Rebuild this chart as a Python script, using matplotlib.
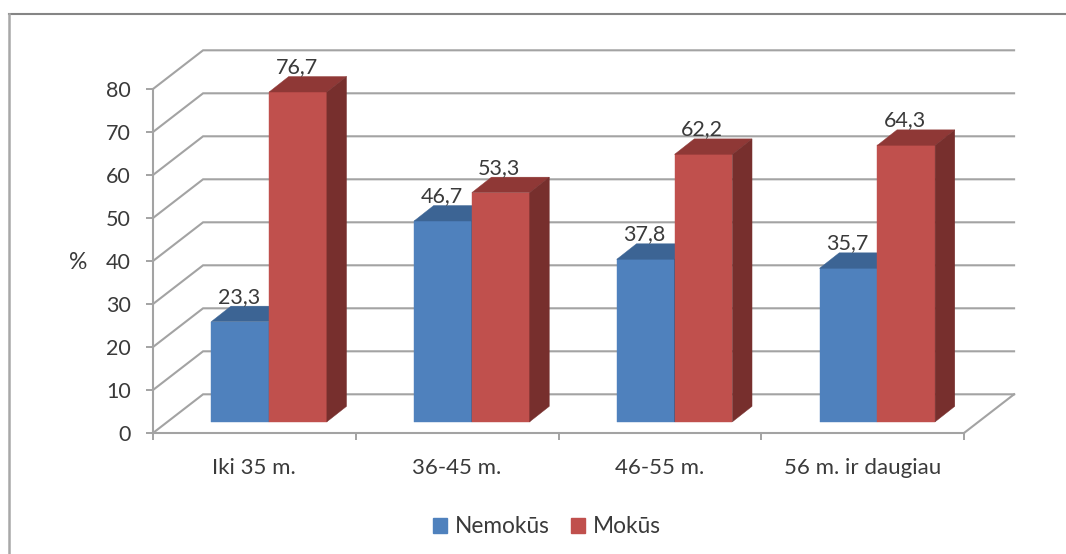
import matplotlib
matplotlib.use("Agg")
import matplotlib.pyplot as plt
from matplotlib.lines import Line2D
from matplotlib.patches import Patch, Polygon

plt.rcParams["font.family"] = ["Lato", "DejaVu Sans"]

groups = ["Iki 35 m.", "36-45 m.", "46-55 m.", "56 m. ir daugiau"]
nemokus = [23.3, 46.7, 37.8, 35.7]
mokus = [76.7, 53.3, 62.2, 64.3]
yticks = [0, 10, 20, 30, 40, 50, 60, 70, 80]

TEXT = "#3a3a3a"
GRID = "#a3a3a3"
BLUE = ("#4f81bd", "#3c6494", "#2f4f76")
RED = ("#c0504d", "#8f3836", "#772f2d")

# depth of the fake 3d box, in axis units
WALL_DX, WALL_DY = 0.247, 9.0
FLOOR_DX, FLOOR_DY = 0.0725, 2.6
BAR_DX, BAR_DY = 0.097, 3.6
BAR_W = 0.285


def draw_bar(ax, x, val, cols):
    # front face sits on the floor, top and side are sheared polygons
    y0 = FLOOR_DY
    y1 = y0 + val
    x1 = x + BAR_W
    ax.bar(x, val, BAR_W, bottom=y0, align="edge", color=cols[0], edgecolor=cols[0],
           linewidth=0.3, clip_on=False, zorder=3)
    ax.add_patch(Polygon([(x, y1), (x1, y1), (x1 + BAR_DX, y1 + BAR_DY), (x + BAR_DX, y1 + BAR_DY)],
                         closed=True, fc=cols[1], ec=cols[1], lw=0.3, clip_on=False, zorder=3))
    ax.add_patch(Polygon([(x1, y0), (x1 + BAR_DX, y0 + BAR_DY), (x1 + BAR_DX, y1 + BAR_DY), (x1, y1)],
                         closed=True, fc=cols[2], ec=cols[2], lw=0.3, clip_on=False, zorder=3))
    ax.annotate(f"{val}".replace(".", ","), (x + BAR_W / 2, y1), xytext=(-1, 18),
                textcoords="offset points", ha="center", va="center",
                fontsize=15.5, color=TEXT, zorder=5)


fig = plt.figure(figsize=(10.66, 5.54), dpi=100)
ax = fig.add_axes([153 / 1066, 1 - 433 / 554, 811 / 1066, 344 / 554])

# back wall and left wall gridlines
for v in yticks:
    ax.plot([0, WALL_DX, 4 + WALL_DX], [v, v + WALL_DY, v + WALL_DY],
            color=GRID, lw=1.5, clip_on=False, zorder=1, solid_joinstyle="miter")
ax.plot([4, 4 + WALL_DX], [0, WALL_DY], color=GRID, lw=1.5, clip_on=False, zorder=1)

for i in range(len(groups)):
    mid = i + 0.5 + FLOOR_DX
    draw_bar(ax, mid - BAR_W, nemokus[i], BLUE)
    draw_bar(ax, mid, mokus[i], RED)

ax.set_xlim(0, 4)
ax.set_ylim(0, 80)
ax.set_yticks(yticks)
ax.set_xticks(range(5))
ax.set_xticklabels([])
ax.set_xticks([i + 0.5 for i in range(4)], minor=True)
ax.set_xticklabels(groups, minor=True)
ax.tick_params(axis="x", which="major", length=5, width=1.4, color=GRID)
ax.tick_params(axis="x", which="minor", length=0, pad=18, labelsize=16, labelcolor=TEXT)
ax.tick_params(axis="y", length=5, width=1.4, color=GRID, pad=11, labelsize=15.5, labelcolor=TEXT)

for side in ["top", "right"]:
    ax.spines[side].set_visible(False)
for side in ["left", "bottom"]:
    ax.spines[side].set_color(GRID)
    ax.spines[side].set_linewidth(1.5)

ax.set_ylabel("%", rotation=0, fontsize=16.5, color=TEXT, ha="center", va="center")
ax.yaxis.set_label_coords(-0.092, 0.495)

handles = [Patch(color=BLUE[0], label="Nemokūs"), Patch(color=RED[0], label="Mokūs")]
fig.legend(handles=handles, loc="center", bbox_to_anchor=(0.513, 0.049), ncol=2, frameon=False,
           fontsize=16.3, handlelength=0.62, handleheight=0.62, handletextpad=0.35,
           columnspacing=0.95, labelcolor=TEXT)

# outer chart frame, runs off the right and bottom of the image
fig.add_artist(Line2D([9 / 1066, 1], [1 - 14 / 554, 1 - 14 / 554], color="#858585", lw=1.5))
fig.add_artist(Line2D([9 / 1066, 9 / 1066], [0, 1 - 14 / 554], color="#a8a8a8", lw=1.8))

fig.savefig("out.png", dpi=100)
